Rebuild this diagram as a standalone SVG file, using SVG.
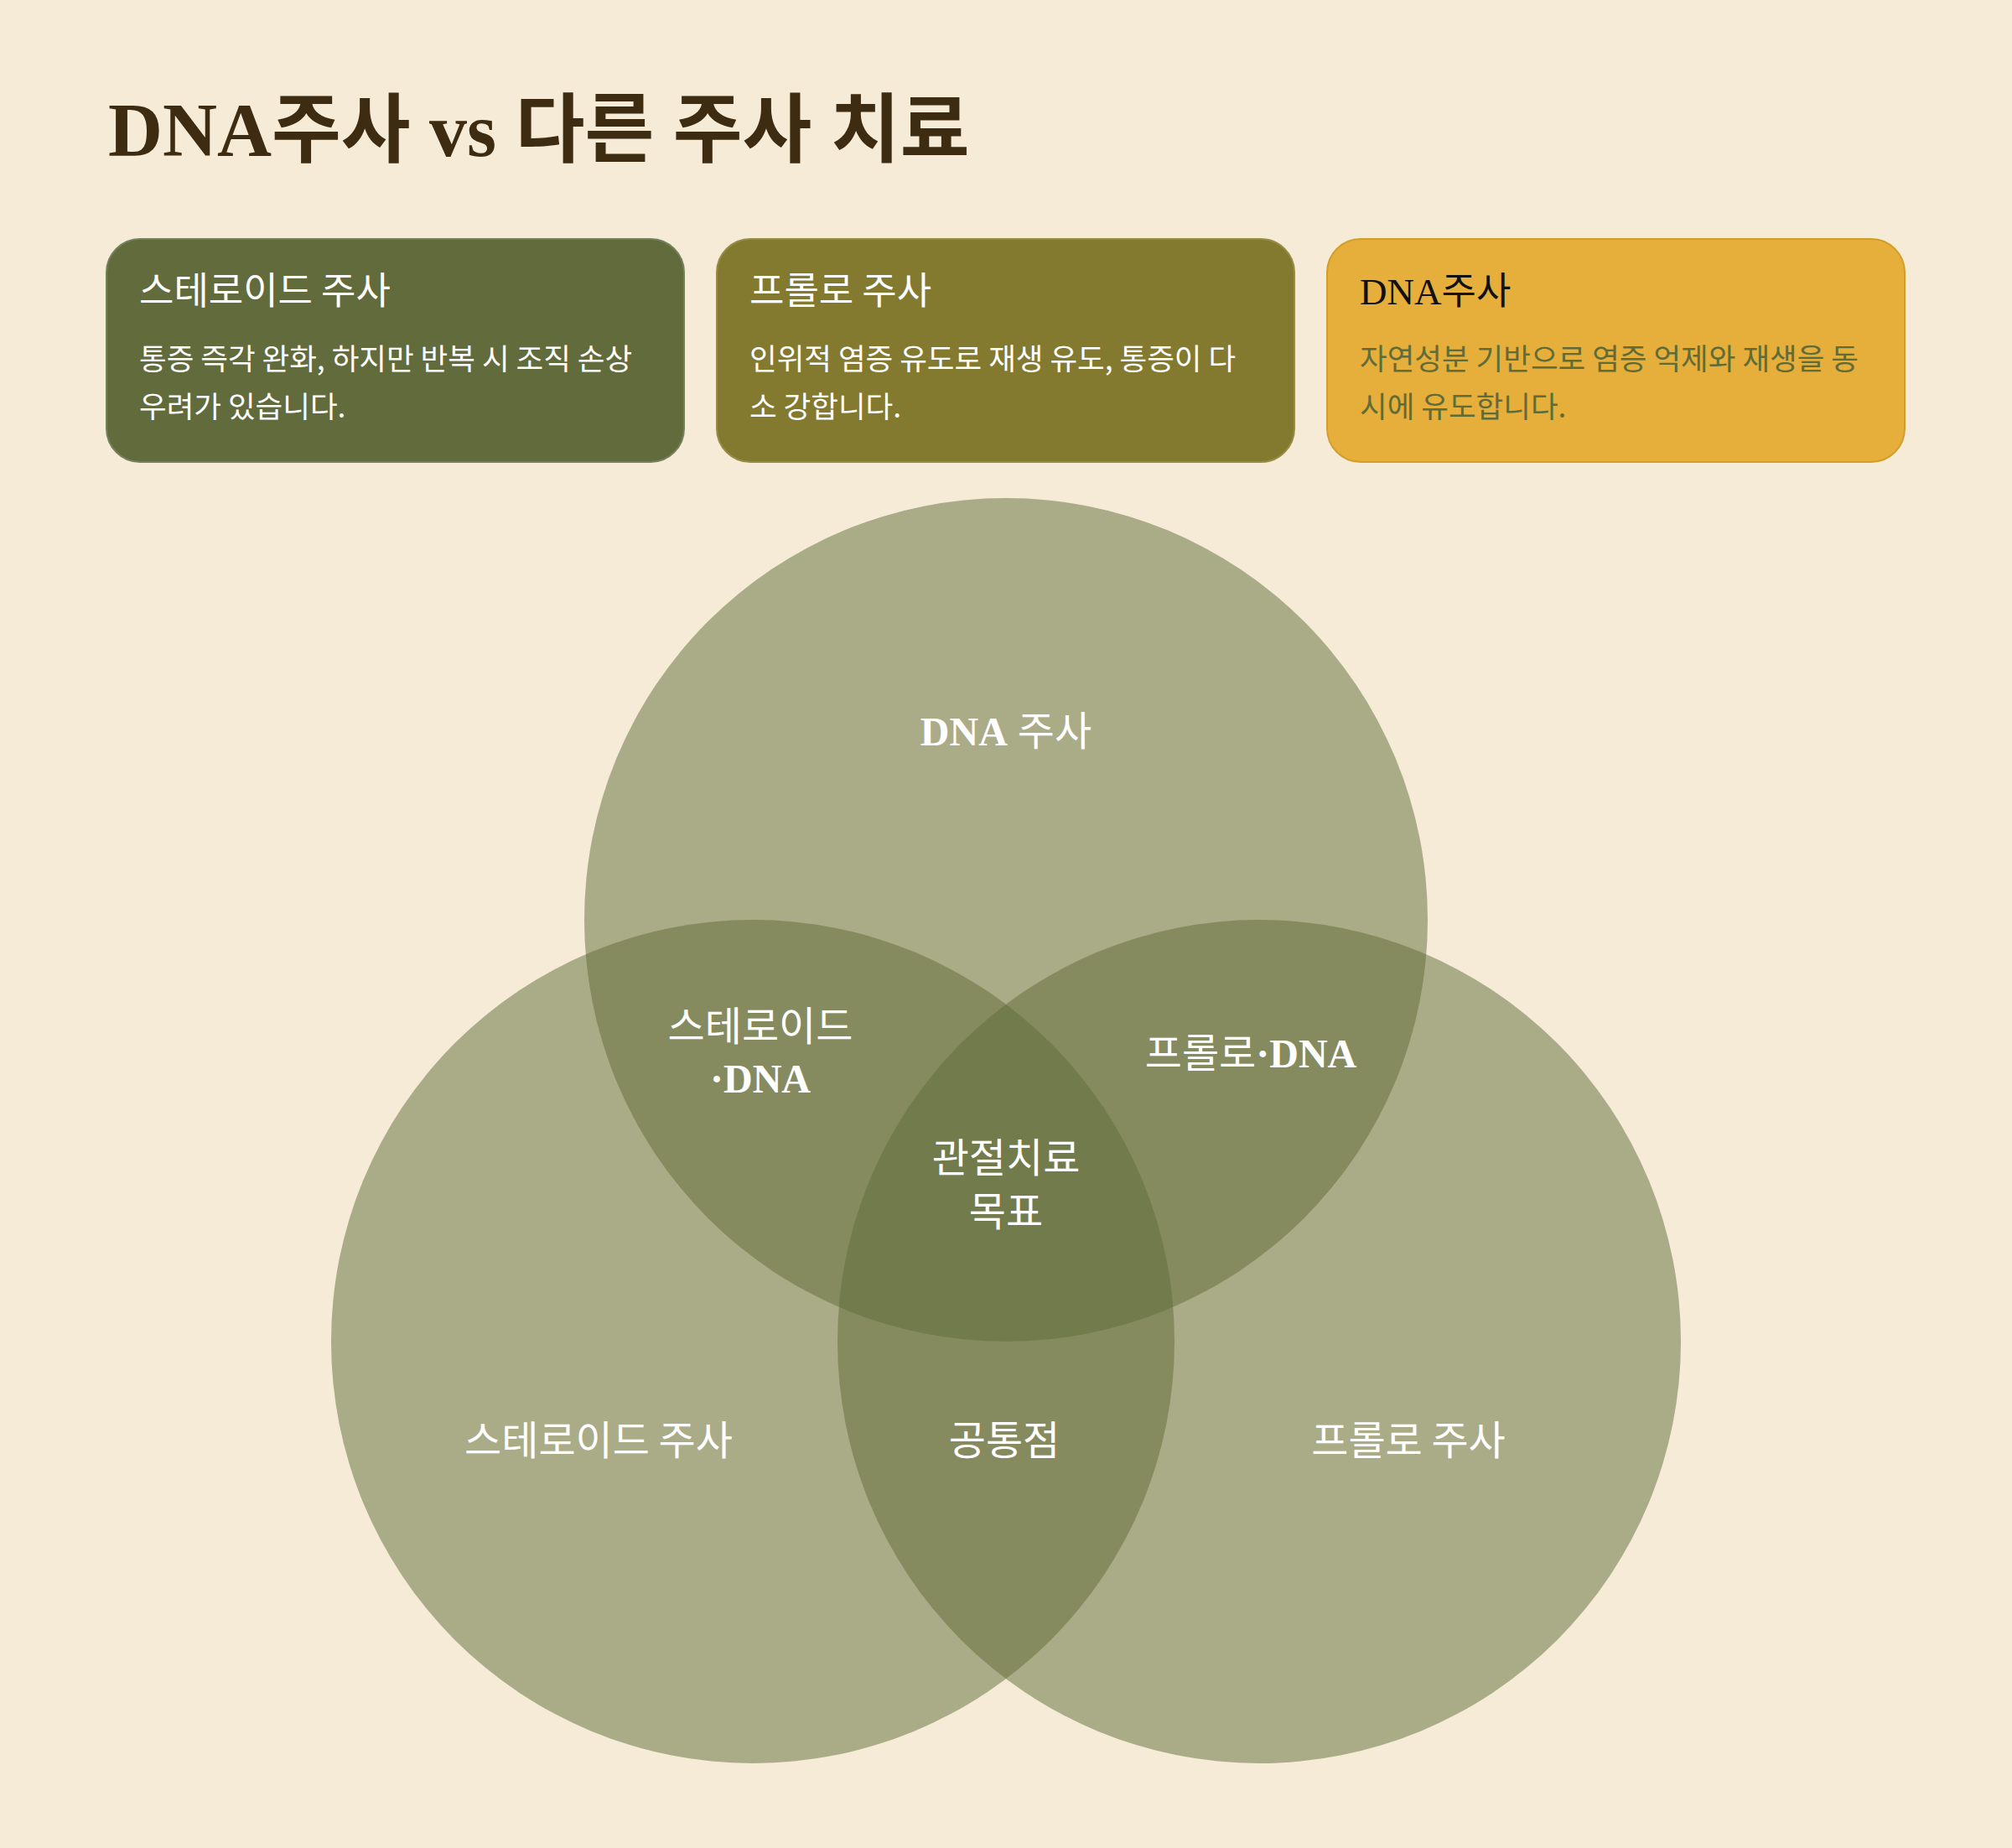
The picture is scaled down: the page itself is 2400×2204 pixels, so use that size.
<svg xmlns="http://www.w3.org/2000/svg" width="2400" height="2204" viewBox="0 0 2400 2204">
<style>
.sans{font-family:"Noto Sans CJK KR","Noto Sans",sans-serif;}
.mix{font-family:"Liberation Serif","Noto Sans CJK KR",serif;}
.ttl{font-size:45px;font-weight:400;}
.body{font-size:35.5px;font-weight:400;}
.lbl{font-size:48px;font-weight:400;fill:#FFFFFF;text-anchor:middle;}
.lat{font-family:"Liberation Serif",serif;font-weight:700;}
.circ{fill:#606C38;fill-opacity:0.5;}
</style>
<rect x="0" y="0" width="2400" height="2204" fill="#F5EBD7"/>
<text id="title" x="129" y="186" class="mix" font-size="90" fill="#3E2C12" font-weight="600"><tspan class="lat">DNA</tspan>주사 <tspan class="lat">vs</tspan> 다른 주사 치료</text>

<g id="card-steroid">
<rect x="127" y="285" width="689" height="266" rx="40" fill="#616B3C" stroke="#76805A" stroke-width="2"/>
<text x="166" y="363" class="sans ttl" fill="#FFFFFF">스테로이드 주사</text>
<text x="166" y="441" class="sans body" fill="#FFFFFF">통증 즉각 완화, 하지만 반복 시 조직 손상</text>
<text x="166" y="498" class="sans body" fill="#FFFFFF">우려가 있습니다.</text>
</g>
<g id="card-prolo">
<rect x="855" y="285" width="689" height="266" rx="40" fill="#83792F" stroke="#978C45" stroke-width="2"/>
<text x="894" y="363" class="sans ttl" fill="#FFFFFF">프롤로 주사</text>
<text x="894" y="441" class="sans body" fill="#FFFFFF">인위적 염증 유도로 재생 유도, 통증이 다</text>
<text x="894" y="498" class="sans body" fill="#FFFFFF">소 강합니다.</text>
</g>
<g id="card-dna">
<rect x="1583" y="285" width="689" height="266" rx="40" fill="#E6AE3A" stroke="#D39E28" stroke-width="2"/>
<text x="1622" y="363" class="mix ttl" fill="#111111"><tspan font-weight="400">DNA</tspan>주사</text>
<text x="1622" y="441" class="sans body" fill="#606C38">자연성분 기반으로 염증 억제와 재생을 동</text>
<text x="1622" y="498" class="sans body" fill="#606C38">시에 유도합니다.</text>
</g>

<g id="venn">
<circle id="circle-dna" class="circ" cx="1200" cy="1097" r="503"/>
<circle id="circle-steroid" class="circ" cx="898" cy="1600" r="503"/>
<circle id="circle-prolo" class="circ" cx="1502" cy="1600" r="503"/>
</g>

<g id="labels">
<text id="lbl-dna" class="mix lbl" x="1200" y="889"><tspan class="lat">DNA</tspan> 주사</text>
<text id="lbl-steroid-dna-1" class="mix lbl" x="907" y="1241">스테로이드</text>
<text id="lbl-steroid-dna-2" class="mix lbl lat" x="907" y="1303">·DNA</text>
<text id="lbl-prolo-dna" class="mix lbl" x="1492" y="1273">프롤로<tspan class="lat">·DNA</tspan></text>
<text id="lbl-center-1" class="sans lbl" x="1200" y="1398">관절치료</text>
<text id="lbl-center-2" class="sans lbl" x="1200" y="1462">목표</text>
<text id="lbl-steroid" class="sans lbl" x="714" y="1735">스테로이드 주사</text>
<text id="lbl-common" class="sans lbl" x="1198" y="1735">공통점</text>
<text id="lbl-prolo" class="sans lbl" x="1680" y="1735">프롤로 주사</text>
</g>
</svg>
